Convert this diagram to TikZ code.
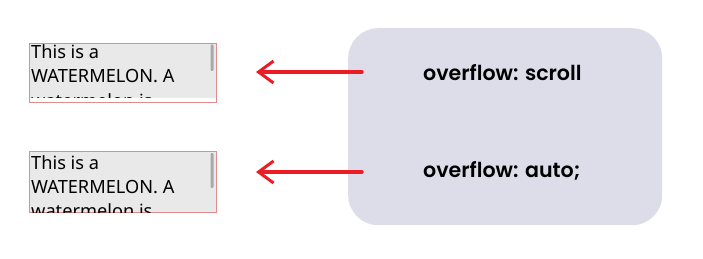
\documentclass[tikz,border=0pt]{standalone}
\usepackage{fontspec}
\usetikzlibrary{arrows.meta}
\newfontfamily\boxfont{Noto Sans}
\newfontfamily\codefont{Poppins}[BoldFont={Poppins SemiBold}]
\definecolor{panelgray}{HTML}{DCDDE9}
\definecolor{boxgray}{HTML}{E9E9E9}
\definecolor{boxedge}{HTML}{E08C8C}
\definecolor{thumbgray}{HTML}{A9A9A9}
\definecolor{penred}{HTML}{EC1C24}

\begin{document}
\begin{tikzpicture}[x=1pt,y=-1pt,
    scrollbox/.style={draw=boxedge, line width=0.7pt, fill=boxgray, inner sep=0pt,
        minimum width=187pt, anchor=north west},
    boxline/.style={anchor=base west, inner sep=0pt,
        font=\boxfont\fontsize{18.2}{24}\selectfont},
    thumb/.style={fill=thumbgray, rounded corners=1.2pt},
    codetext/.style={anchor=west, inner sep=0pt, font=\codefont\bfseries\fontsize{20.6}{25}\selectfont},
    redarrow/.style={draw=penred, line width=3.4pt, line cap=round,
        -{Straight Barb[length=15pt,width=22pt,line width=3pt]}}]
   \useasboundingbox (0,0) rectangle (703,259);
   % the two boxes on the left
   \node[scrollbox, minimum height=59pt] (scrollbox) at (29,43) {};
   \node[scrollbox, minimum height=61pt] (autobox) at (29,151) {};
   % overflow: scroll -- white track along the bottom
   \fill[white] ([xshift=0.5pt,yshift=5pt]scrollbox.south west) rectangle ([xshift=-0.5pt,yshift=0.4pt]scrollbox.south east);
   \begin{scope}
      \clip ([xshift=0.5pt]scrollbox.north west) rectangle ([xshift=-0.5pt,yshift=5pt]scrollbox.south east);
      \node[boxline] (scrollA) at (31,59) {This is a};
      \node[boxline] (scrollB) at (31,83) {WATERMELON. A};
      \node[boxline] (scrollC) at (31,107) {watermelon is};
   \end{scope}
   \fill[thumb] (210.5,44.5) rectangle (213.5,71);
   % overflow: auto
   \begin{scope}
      \clip ([xshift=0.5pt]autobox.north west) rectangle ([xshift=-0.5pt]autobox.south east);
      \node[boxline] (autoA) at (31,169) {This is a};
      \node[boxline] (autoB) at (31,193) {WATERMELON. A};
      \node[boxline] (autoC) at (31,217) {watermelon is};
   \end{scope}
   \fill[thumb] (210.5,153) rectangle (213.5,188);
   % the panel with the two rules
   \node[fill=panelgray, rounded corners=30pt, minimum width=314pt, minimum height=197pt,
       anchor=north west, inner sep=0pt] (panel) at (348,28) {};
   \node[codetext] (scroll) at (423,73) {overflow: scroll};
   \node[codetext] (auto) at (423,171) {overflow: auto;};
   % arrows pointing back at the boxes
   \coordinate (scrollfrom) at (362,72);
   \coordinate (scrollto) at (256,72);
   \coordinate (autofrom) at (362,172);
   \coordinate (autoto) at (256,172);
   \draw[redarrow] (scrollfrom) -- (scrollto);
   \draw[redarrow] (autofrom) -- (autoto);
\end{tikzpicture}
\end{document}
